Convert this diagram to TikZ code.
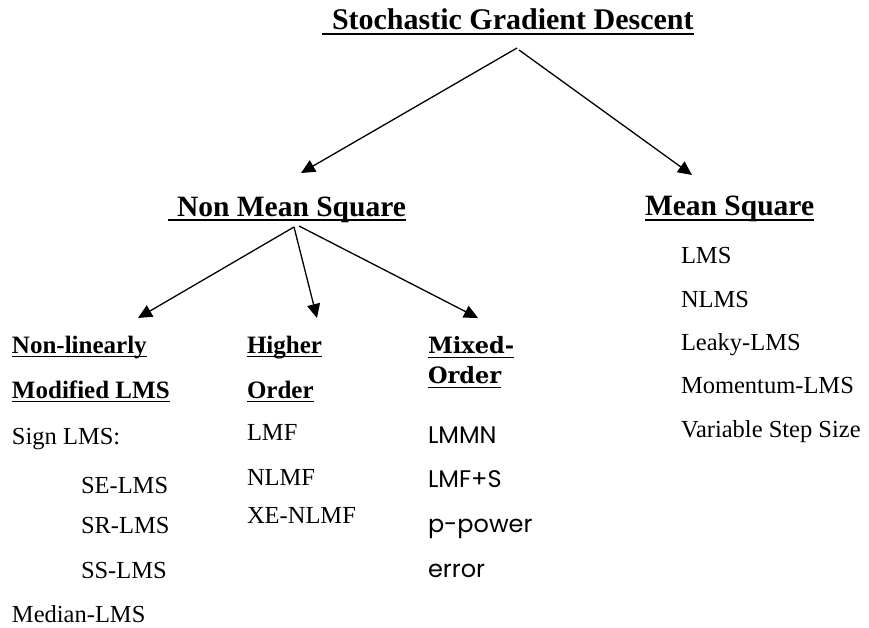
\documentclass[tikz,border=0pt]{standalone}
\usepackage{fontspec}
\setmainfont{Liberation Serif}
\newfontfamily\mixheadfont{DejaVu Serif}
\newfontfamily\gothicfont{Poppins}
\usetikzlibrary{arrows.meta}
\begin{document}
\begin{tikzpicture}[x=1pt,y=-1pt,
  every node/.style={inner sep=0pt, outer sep=0pt, anchor=base west},
  titletext/.style={font=\fontsize{30}{36}\selectfont\bfseries},
  headtext/.style={font=\fontsize{29.5}{36}\selectfont\bfseries},
  subhead/.style={font=\fontsize{25}{30}\selectfont\bfseries},
  itemtext/.style={font=\fontsize{24.5}{30}\selectfont},
  mixhead/.style={font=\fontsize{22.5}{27}\selectfont\mixheadfont\bfseries},
  mixitem/.style={font=\fontsize{24}{29}\selectfont\gothicfont},
  arr/.style={line width=1.3pt, -{Triangle[length=14pt,width=13pt]}},
  ulthick/.style={line width=2pt},
  ulthin/.style={line width=1.6pt}
]
\useasboundingbox (0,0) rectangle (869,627);

% headings
\node[titletext] (sgd) at (332,29) {Stochastic Gradient Descent};
\node[headtext] (nms) at (177,216) {Non Mean Square};
\node[headtext] (ms) at (645,215) {Mean Square};

\draw[ulthick] ([xshift=-10pt,yshift=-5pt]sgd.base west) -- ([yshift=-5pt]sgd.base east);
\draw[ulthick] ([xshift=-9pt,yshift=-4pt]nms.base west) -- ([yshift=-4pt]nms.base east);
\draw[ulthick] ([yshift=-5pt]ms.base west) -- ([yshift=-5pt]ms.base east);

% sub-headings
\node[subhead] (nl1) at (12,353) {Non-linearly};
\node[subhead] (nl2) at (12,398) {Modified LMS};
\node[subhead] (ho1) at (247,353) {Higher};
\node[subhead] (ho2) at (247,398) {Order};
\node[mixhead] (mo1) at (428,353) {Mixed-};
\node[mixhead] (mo2) at (428,383) {Order};

\foreach \n in {nl1,nl2,ho1,ho2}
  \draw[ulthin] ([yshift=-3.5pt]\n.base west) -- ([yshift=-3.5pt]\n.base east);
\foreach \n in {mo1,mo2}
  \draw[ulthin] ([yshift=-4.5pt]\n.base west) -- ([yshift=-4.5pt]\n.base east);

% items: non-linearly modified LMS
\node[itemtext] (sign) at (12,444) {Sign LMS:};
\node[itemtext] (se) at (81,493) {SE-LMS};
\node[itemtext] (sr) at (81,533) {SR-LMS};
\node[itemtext] (ss) at (81,578) {SS-LMS};
\node[itemtext] (med) at (12,622) {Median-LMS};

% items: higher order
\node[itemtext] (lmf) at (247,440) {LMF};
\node[itemtext] (nlmf) at (247,485) {NLMF};
\node[itemtext] (xenlmf) at (247,523) {XE-NLMF};

% items: mixed order
\node[mixitem] (lmmn) at (428,443) {LMMN};
\node[mixitem] (lmfs) at (428,487) {LMF+S};
\node[mixitem] (ppow) at (428,532) {p-power};
\node[mixitem] (err) at (428,577) {error};

% items: mean square
\node[itemtext] (lms) at (681,263) {LMS};
\node[itemtext] (nlms) at (681,307) {NLMS};
\node[itemtext] (leaky) at (681,350) {Leaky-LMS};
\node[itemtext] (mom) at (681,393) {Momentum-LMS};
\node[itemtext] (vss) at (681,437) {Variable Step Size};

% connectors
\coordinate (apexA) at (517,48);
\coordinate (apexB) at (519,50);
\coordinate (tipNMS) at (301,173);
\coordinate (tipMS) at (692,175);
\draw[arr] (apexA) -- (tipNMS);
\draw[arr] (apexB) -- (tipMS);

\coordinate (apexC) at (294,227);
\coordinate (apexD) at (299,226);
\coordinate (tipNL) at (138,318);
\coordinate (tipHO) at (317,318);
\coordinate (tipMO) at (478,318);
\draw[arr] (apexC) -- (tipNL);
\draw[arr] (apexC) -- (tipHO);
\draw[arr] (apexD) -- (tipMO);
\end{tikzpicture}
\end{document}
